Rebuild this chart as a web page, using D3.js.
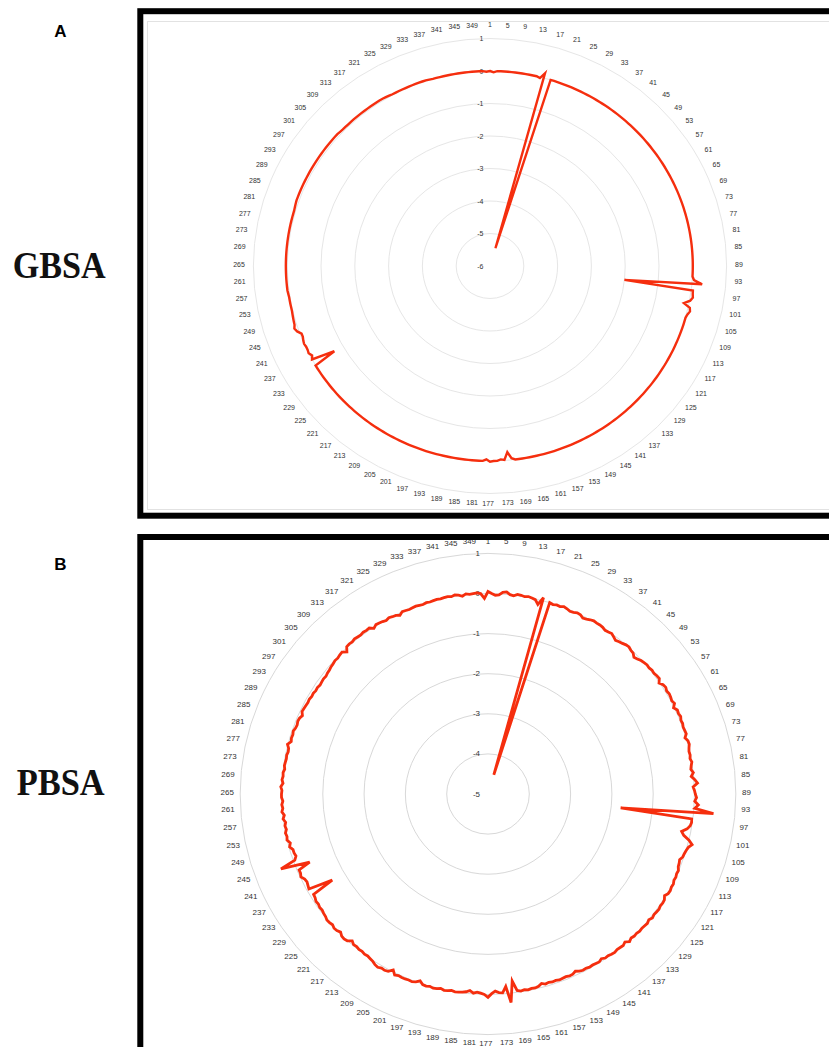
<!DOCTYPE html>
<html>
<head>
<meta charset="utf-8">
<script src="https://cdn.jsdelivr.net/npm/d3@7"></script>
<style>
  body { margin: 0; background: #fff; }
  svg { display: block; }
</style>
</head>
<body>
<svg id="chart" width="829" height="1047"></svg>
<script>
// residue-wise energy change, one value per residue (1..352)
const gbsa = [
  0, -0.04, 0, 0, 0, 0, 0, 0, 0, 0, 0, 0, 0, 0, -0.03, 0.15,
  -5.43, 0, 0, 0, 0, 0, 0, 0, 0, 0, 0, 0, 0, 0, 0, 0,
  0, 0, 0, 0, 0, 0, 0, 0, 0, 0, 0, 0, 0, 0, 0, 0,
  0, 0, 0, 0, 0, 0, 0, 0, 0, 0, 0, 0, 0, 0, 0, 0,
  0, 0, 0, 0, 0, 0, 0, 0, 0, 0, 0, 0, 0, 0, 0, 0,
  0, 0, 0, 0, 0, 0, 0, 0, 0, 0, 0, 0, 0.05, 0.3, -2.0, 0.05,
  0.06, 0.08, 0.02, -0.15, 0.05, 0.08, 0.03, 0, 0, 0, 0, 0, 0, 0, 0, 0,
  0, 0, 0, 0, 0, 0, 0, 0, 0, 0, 0, 0, 0, 0, 0, 0,
  0, 0, 0, 0, 0, 0, 0, 0, 0, 0, 0, 0, 0, 0, 0, 0,
  0, 0, 0, 0, 0, 0, 0, 0, 0, 0, 0, 0, 0, 0, 0, 0,
  0, 0, 0, 0, 0, 0, 0, 0, 0, 0, -0.05, -0.25, -0.02, -0.04, 0, 0,
  0.02, -0.05, 0, 0, 0, 0, 0, 0, 0, 0, 0, 0, 0, 0, 0, 0,
  0, 0, 0, 0, 0, 0, 0, 0, 0, 0, 0, 0, 0, 0, 0, 0,
  0, 0, 0, 0, 0, 0, 0, 0, 0, 0, 0, 0, 0, 0, 0, 0,
  0, 0, 0, 0, 0, 0, 0, 0, 0, 0, 0, -0.7, 0, -0.06, 0, -0.02,
  -0.02, 0, -0.02, -0.05, -0.05, 0.05, 0.1, 0.06, 0.05, 0.04, 0.03, 0.02, 0.02, 0.02, 0.02, 0.02,
  0.03, 0.04, 0.04, 0.04, 0.04, 0.04, 0.04, 0.04, 0.04, 0.04, 0.04, 0.04, 0.04, 0.04, 0.04, 0.04,
  0.04, 0.04, 0.04, 0.04, 0.04, 0.04, 0.04, 0.04, 0.04, 0.05, 0.06, 0.07, 0.07, 0.07, 0.07, 0.07,
  0.07, 0.07, 0.07, 0.07, 0.07, 0.07, 0.07, 0.07, 0.07, 0.07, 0.07, 0.07, 0.07, 0.07, 0.07, 0.07,
  0.07, 0.07, 0.06, 0.05, 0.05, 0.05, 0.05, 0.05, 0.05, 0.05, 0.05, 0.05, 0.05, 0.05, 0.05, 0.05,
  0.05, 0.05, 0.04, 0.03, 0.02, 0.02, 0.02, 0.02, 0.02, 0.02, 0.02, 0.02, 0.02, 0.02, 0.02, 0.01,
  0, 0, 0, 0, 0, 0, 0, 0, 0, 0, 0, 0, 0, 0, 0, -0.02
];

const pbsa = [
  0.05, 0.0, -0.04, -0.03, 0.04, 0.06, 0.0, -0.02, 0.03, 0.02, 0.0, 0.02, 0.0, -0.02, -0.12, 0.08,
  -4.5, 0.0, -0.02, 0.0, -0.01, 0.02, 0.0, -0.03, -0.02, 0.01, 0.0, -0.05, -0.03, 0.0, 0.02, 0.01,
  0.01, 0.0, -0.03, -0.02, 0.0, -0.04, -0.08, -0.05, -0.03, 0.0, 0.01, -0.02, -0.03, -0.09, -0.06, -0.02,
  0.0, 0.02, 0.01, 0.03, 0.02, 0.04, 0.05, -0.02, 0.04, 0.06, 0.03, 0.05, 0.04, 0.02, 0.05, -0.02,
  0.04, 0.03, 0.05, 0.02, 0.03, 0.01, 0.02, 0.03, -0.03, 0.02, 0.03, 0.0, -0.02, -0.01, -0.03, 0.0,
  -0.03, -0.05, 0.0, -0.06, 0.02, 0.08, -0.03, 0.0, 0.02, 0.05, 0.01, 0.1, 0.02, 0.48, -1.77, -0.03,
  -0.02, -0.04, -0.1, -0.22, -0.15, 0.0, 0.1, 0.03, 0.0, -0.02, -0.03, -0.08, -0.06, -0.05, -0.01, -0.02,
  0.0, -0.01, 0.02, 0.01, 0.03, 0.02, -0.03, 0.02, 0.03, 0.02, 0.04, 0.03, 0.02, 0.04, 0.0, 0.03,
  0.02, 0.01, 0.02, 0.0, 0.01, -0.01, 0.03, -0.04, 0.0, -0.01, -0.02, 0.0, -0.01, -0.03, -0.02, -0.06,
  -0.02, -0.03, -0.04, -0.03, -0.05, -0.04, -0.06, -0.1, -0.06, -0.05, -0.07, -0.06, -0.05, -0.07, -0.06, -0.08,
  -0.06, -0.1, -0.05, -0.03, -0.04, -0.02, -0.04, -0.02, -0.05, -0.3, 0.23, -0.18, -0.03, -0.04, -0.08, -0.02,
  0.07, 0.0, -0.03, -0.05, -0.02, -0.08, -0.04, -0.02, -0.01, 0.0, -0.02, 0.0, 0.01, -0.02, 0.01, 0.02,
  0.0, 0.02, 0.01, -0.06, 0.0, 0.03, 0.02, 0.03, 0.03, 0.02, 0.05, -0.05, 0.04, 0.06, 0.05, 0.08,
  0.06, 0.02, 0.0, -0.02, -0.01, -0.03, -0.02, -0.04, -0.03, -0.08, 0.0, 0.02, 0.01, -0.04, 0.0, 0.01,
  -0.02, 0.0, 0.01, -0.02, -0.03, -0.05, -0.04, -0.06, -0.05, -0.08, -0.09, -0.66, -0.06, -0.08, -0.1, -0.08,
  -0.02, -0.05, -0.05, -0.36, 0.35, -0.04, -0.1, -0.08, -0.08, -0.02, -0.06, 0.0, -0.02, 0.0, -0.04, -0.02,
  -0.05, 0.0, -0.04, 0.01, -0.02, 0.0, -0.03, 0.0, 0.0, -0.01, 0.02, -0.03, 0.0, -0.02, -0.01, -0.04,
  -0.02, -0.03, -0.04, -0.03, -0.05, -0.04, 0.01, -0.06, -0.04, -0.05, -0.03, -0.06, -0.07, -0.05, -0.06, -0.1,
  -0.05, -0.06, -0.07, -0.08, -0.07, -0.09, -0.08, -0.1, -0.09, -0.11, -0.1, -0.09, -0.1, -0.08, -0.07, -0.05,
  -0.04, -0.02, -0.03, -0.01, 0.0, -0.08, 0.02, 0.03, 0.02, 0.04, 0.03, 0.02, 0.04, 0.03, 0.04, -0.03,
  0.02, 0.01, 0.0, -0.02, 0.01, -0.01, -0.02, -0.06, 0.0, -0.01, -0.02, -0.01, 0.0, -0.01, -0.02, 0.0,
  -0.01, 0.0, 0.01, 0.0, 0.01, 0.02, 0.0, 0.03, 0.01, -0.03, 0.02, 0.0, 0.01, 0.02, 0.0, -0.12
];

const ticksA = [1, 0, -1, -2, -3, -4, -5, -6];
const ticksB = [1, 0, -1, -2, -3, -4, -5];

const svg = d3.select("#chart");
const lineColor = "#f52e0e";

// draws one radar panel (the source image is a little stretched sideways, hence kx)
function radar(values, ticks, o) {
  const n = values.length;
  const residues = d3.range(1, n + 1);
  const r = d3.scaleLinear().domain([d3.min(ticks), d3.max(ticks)]).range([0, o.outer]);
  const ang = d3.scaleLinear().domain([0, n]).range([0, 2 * Math.PI]);
  const px = (i, v) => o.cx + o.kx * r(v) * Math.sin(ang(i));
  const py = (i, v) => o.cy - r(v) * Math.cos(ang(i));

  const g = svg.append("g");

  // rings
  g.selectAll("ellipse.grid").data(ticks.filter(t => t !== d3.min(ticks)))
    .enter().append("ellipse")
    .attr("cx", o.cx).attr("cy", o.cy)
    .attr("rx", d => o.kx * r(d)).attr("ry", d => r(d))
    .attr("fill", "none").attr("stroke", o.grid).attr("stroke-width", 1);

  // radial value labels
  g.selectAll("text.tick").data(ticks).enter().append("text")
    .attr("x", o.cx - o.tickGap).attr("y", d => o.cy - r(d))
    .attr("text-anchor", "end").attr("dominant-baseline", "central")
    .attr("font-family", "Liberation Sans, Arial, sans-serif")
    .attr("font-size", o.fs).attr("fill", "#333")
    .text(d => d);

  // residue labels every 4th residue
  const lab = g.selectAll("text.res").data(residues.filter(d => (d - 1) % 4 === 0))
    .enter().append("text")
    .attr("text-anchor", "middle").attr("dominant-baseline", "central")
    .attr("font-family", "Liberation Sans, Arial, sans-serif")
    .attr("font-size", o.fs).attr("fill", "#333")
    .text(d => d);
  lab.each(function(d) {
    const w = this.getComputedTextLength();
    const a = ang(d - 1);
    const s = Math.sin(a), c = Math.cos(a);
    // the label sitting exactly at the bottom is right-aligned, like the left half
    const side = Math.abs(s) < 1e-6 && c < 0 ? -1 : s;
    d3.select(this)
      .attr("x", o.cx + o.kx * o.labR * s + (w / 2 - o.labC) * side)
      .attr("y", o.cy - o.labR * c - 2);
  });

  // data line
  const line = d3.line()
    .x((d, i) => px(i, d))
    .y((d, i) => py(i, d))
    .curve(d3.curveLinearClosed);
  g.append("path").datum(values)
    .attr("d", line)
    .attr("fill", "none")
    .attr("stroke", lineColor)
    .attr("stroke-width", o.lw)
    .attr("stroke-linejoin", "miter")
    .attr("stroke-miterlimit", 4);
}

// plot area border of panel A
svg.append("rect").attr("x", 147.5).attr("y", 21.5).attr("width", 700).attr("height", 488)
  .attr("fill", "none").attr("stroke", "#e2e2e2").attr("stroke-width", 1);

radar(gbsa, ticksA, {cx: 490, cy: 266, outer: 227.5, kx: 1.04, fs: 7, labR: 239.5, labC: 4,
  tickGap: 6.5, grid: "#e6e6e6", lw: 2.4});
radar(pbsa, ticksB, {cx: 488, cy: 794, outer: 240.6, kx: 1.03, fs: 8, labR: 251, labC: 4.5,
  tickGap: 8, grid: "#d8d8d8", lw: 2.8});

// black frames
svg.append("rect").attr("x", 140.3).attr("y", 11.2).attr("width", 760).attr("height", 504.5)
  .attr("fill", "none").attr("stroke", "#000").attr("stroke-width", 6);
svg.append("rect").attr("x", 140.3).attr("y", 537).attr("width", 760).attr("height", 600)
  .attr("fill", "none").attr("stroke", "#000").attr("stroke-width", 6);

// panel letters and method names
const letters = [{t: "A", y: 37.3}, {t: "B", y: 570}];
svg.selectAll("text.letter").data(letters).enter().append("text")
  .attr("x", 60.5).attr("y", d => d.y).attr("text-anchor", "middle")
  .attr("font-family", "Liberation Sans, Arial, sans-serif").attr("font-weight", "bold")
  .attr("font-size", 17).text(d => d.t);

const methods = [{t: "GBSA", x: 12.7, y: 278.3, w: 93}, {t: "PBSA", x: 16.7, y: 795, w: 88}];
svg.selectAll("text.method").data(methods).enter().append("text")
  .attr("x", d => d.x).attr("y", d => d.y)
  .attr("font-family", "Liberation Serif, Times New Roman, serif").attr("font-weight", "bold")
  .attr("font-size", 37).attr("fill", "#111")
  .attr("textLength", d => d.w).attr("lengthAdjust", "spacingAndGlyphs")
  .text(d => d.t);
</script>
</body>
</html>
